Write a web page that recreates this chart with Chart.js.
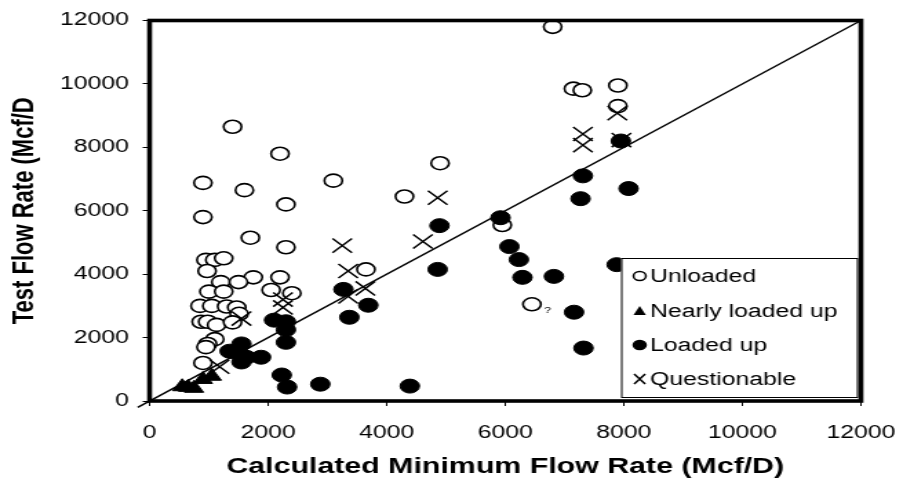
<!DOCTYPE html>
<html>
<head>
<meta charset="utf-8">
<script src="https://cdn.jsdelivr.net/npm/chart.js@4.4.1/dist/chart.umd.min.js"></script>
<style>
  html, body { margin: 0; padding: 0; background: #fff; overflow: hidden; }
  /* la imagen original está estirada en horizontal */
  #grafico { transform: scaleX(1.3786); transform-origin: 0 0; }
</style>
</head>
<body>
<canvas id="grafico" width="655" height="483"></canvas>
<script>
// Datos (Mcf/D)
const unloadedX = [1400, 2200, 3100, 900, 1600, 2300, 900, 1700, 2300, 950, 1100, 1250, 970, 1750, 2200, 1200, 1500,
  1000, 1250, 2050, 2400, 850, 1050, 1300, 1470, 1510, 870, 980, 1130, 1400, 1100, 980, 950, 900,
  4900, 4300, 3650, 5950, 6800, 7150, 7300, 7900, 7900, 6450];
const unloadedY = [8650, 7800, 6950, 6880, 6650, 6200, 5800, 5150, 4850, 4450, 4450, 4500, 4100, 3900, 3900, 3750, 3750,
  3450, 3450, 3500, 3400, 3000, 3000, 2980, 2950, 2750, 2500, 2500, 2400, 2480, 1950, 1800, 1700, 1200,
  7500, 6450, 4150, 5550, 11800, 9850, 9800, 9950, 9300, 3050];

const nearlyX = [550, 650, 750, 900, 1050];
const nearlyY = [450, 430, 400, 680, 780];

const loadedX = [2100, 2300, 2300, 2300, 1550, 1350, 1450, 1560, 1630, 1880, 1550, 2230, 2320, 2880,
  3270, 3370, 3690, 4390, 4890, 4860, 5920, 6070, 6230, 6290, 6820, 7160, 7320, 7310, 7270, 7950, 8080, 7880];
const loadedY = [2550, 2500, 2250, 1850, 1800, 1570, 1540, 1420, 1380, 1380, 1230, 820, 440, 530,
  3520, 2640, 3020, 470, 5530, 4150, 5780, 4870, 4460, 3900, 3930, 2800, 1670, 7100, 6380, 8200, 6700, 4300];

const questionableX = [3250, 2250, 2250, 1180, 1550, 3350, 3640, 3350, 4610, 4860, 7310, 7310, 7890, 7960];
const questionableY = [4900, 3200, 2950, 1080, 2600, 4100, 3550, 3300, 5030, 6410, 8420, 8070, 9080, 8230];

// Línea 1:1
const lineX = [-200, 12000];
const lineY = [-200, 12000];

const axisTicks = [0, 2000, 4000, 6000, 8000, 10000, 12000];

function puntos(xs, ys) {
    return xs.map((x, i) => ({ x: x, y: ys[i] }));
}

const fuente = 'Liberation Sans, Arial, sans-serif';

// Dibujar un marcador sencillo para la leyenda
function dibujarMarcador(ctx, ds, x, y) {
    ctx.save();
    ctx.strokeStyle = '#000';
    ctx.fillStyle = ds.backgroundColor;
    ctx.lineWidth = 1.5;
    if (ds.pointStyle === 'circle') {
        ctx.beginPath();
        ctx.arc(x, y, 4.5, 0, Math.PI * 2);
        ctx.fill();
        ctx.stroke();
    } else if (ds.pointStyle === 'triangle') {
        ctx.beginPath();
        ctx.moveTo(x, y - 5);
        ctx.lineTo(x + 4.5, y + 4);
        ctx.lineTo(x - 4.5, y + 4);
        ctx.closePath();
        ctx.fill();
    } else {
        ctx.beginPath();
        ctx.moveTo(x - 4, y - 5); ctx.lineTo(x + 4, y + 5);
        ctx.moveTo(x + 4, y - 5); ctx.lineTo(x - 4, y + 5);
        ctx.stroke();
    }
    ctx.restore();
}

// Marco grueso alrededor del área del gráfico
const marco = {
    id: 'marco',
    afterDatasetsDraw(chart) {
        const { ctx, chartArea: a } = chart;
        ctx.save();
        ctx.strokeStyle = '#000';
        ctx.lineWidth = 3.6;
        ctx.strokeRect(a.left, a.top, a.right - a.left, a.bottom - a.top);
        // signo de interrogación junto a un punto
        const sx = chart.scales.x, sy = chart.scales.y;
        ctx.fillStyle = '#000';
        ctx.font = '9px ' + fuente;
        ctx.textAlign = 'left';
        ctx.textBaseline = 'middle';
        ctx.fillText('?', sx.getPixelForValue(6450) + 9, sy.getPixelForValue(3050) + 6);
        ctx.restore();
    }
};

// Leyenda con recuadro dentro del área
const leyenda = {
    id: 'leyenda',
    afterDraw(chart) {
        const { ctx, chartArea: a } = chart;
        const left = a.right - 174, top = a.bottom - 143, w = 171, h = 139;
        ctx.save();
        ctx.fillStyle = '#fff';
        ctx.fillRect(left, top, w, h);
        ctx.strokeStyle = '#000';
        ctx.lineWidth = 1;
        ctx.strokeRect(left + 0.5, top + 0.5, w, h);
        ctx.font = '18px ' + fuente;
        ctx.fillStyle = '#000';
        ctx.textBaseline = 'middle';
        const filas = [18, 53, 87, 121];
        chart.data.datasets.slice(0, 4).forEach((ds, i) => {
            dibujarMarcador(ctx, ds, left + 13.5, top + filas[i]);
            ctx.fillStyle = '#000';
            ctx.fillText(ds.label, left + 21, top + filas[i] + 1);
        });
        ctx.restore();
    }
};

new Chart(document.getElementById('grafico'), {
    type: 'scatter',
    data: {
        datasets: [{
            label: 'Unloaded',
            data: puntos(unloadedX, unloadedY),
            pointStyle: 'circle',
            pointRadius: 6.5,
            backgroundColor: '#fff',
            borderColor: '#000',
            borderWidth: 1.6,
            order: 4,
        }, {
            label: 'Nearly loaded up',
            data: puntos(nearlyX, nearlyY),
            pointStyle: 'triangle',
            pointRadius: 8,
            backgroundColor: '#000',
            borderColor: '#000',
            borderWidth: 1,
            order: 3,
        }, {
            label: 'Loaded up',
            data: puntos(loadedX, loadedY),
            pointStyle: 'circle',
            pointRadius: 7,
            backgroundColor: '#000',
            borderColor: '#000',
            borderWidth: 1,
            order: 1,
        }, {
            label: 'Questionable',
            data: puntos(questionableX, questionableY),
            pointStyle: 'crossRot',
            pointRadius: 10,
            backgroundColor: '#000',
            borderColor: '#000',
            borderWidth: 1.5,
            order: 2,
        }, {
            type: 'line',
            label: '1:1',
            data: puntos(lineX, lineY),
            borderColor: '#000',
            borderWidth: 1.5,
            pointRadius: 0,
            fill: false,
            clip: false,
            order: 5,
        }],
    },
    options: {
        responsive: false,
        animation: false,
        devicePixelRatio: 1,
        layout: { padding: { top: 20.5, right: 30.5, bottom: 1, left: 0 } },
        plugins: {
            legend: { display: false },
            tooltip: { enabled: false },
        },
        scales: {
            x: {
                type: 'linear',
                min: 0,
                max: 12000,
                afterBuildTicks: (scale) => { scale.ticks = axisTicks.map(v => ({ value: v })); },
                ticks: {
                    color: '#000',
                    font: { family: fuente, size: 18 },
                    padding: 16,
                    maxRotation: 0,
                    callback: (v) => String(v),
                },
                grid: { drawOnChartArea: false, color: '#000', tickLength: 5, lineWidth: 1 },
                border: { display: false },
                title: {
                    display: true,
                    text: 'Calculated Minimum Flow Rate (Mcf/D)',
                    color: '#000',
                    font: { family: fuente, size: 22, weight: 'bold' },
                    padding: { top: 0, bottom: 2 },
                },
                afterFit: (scale) => {
                    scale.height = 81;
                    scale.paddingLeft = 0;
                    scale.paddingRight = 0;
                },
            },
            y: {
                type: 'linear',
                min: 0,
                max: 12000,
                afterBuildTicks: (scale) => { scale.ticks = axisTicks.map(v => ({ value: v })); },
                ticks: {
                    color: '#000',
                    font: { family: fuente, size: 18 },
                    padding: 10,
                    callback: (v) => String(v),
                },
                grid: { drawOnChartArea: false, color: '#000', tickLength: 5, lineWidth: 1 },
                border: { display: false },
                title: {
                    display: true,
                    text: 'Test Flow Rate (Mcf/D',
                    color: '#000',
                    font: { family: fuente, size: 22, weight: 'bold' },
                    padding: { top: 5, bottom: 0 },
                },
                afterFit: (scale) => {
                    scale.width = 108.5;
                    scale.paddingTop = 0;
                    scale.paddingBottom = 0;
                },
            },
        },
    },
    plugins: [marco, leyenda],
});
</script>
</body>
</html>
